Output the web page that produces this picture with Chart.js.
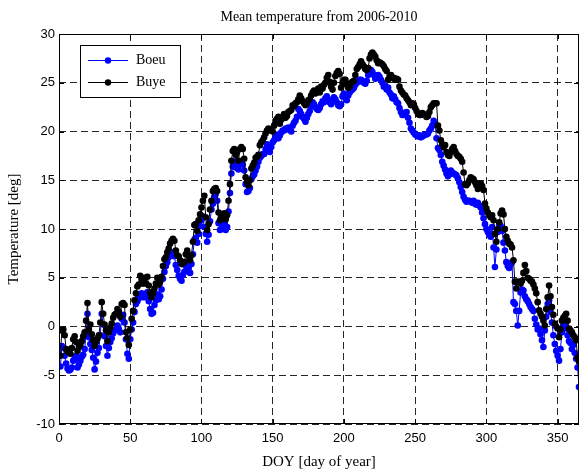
<!DOCTYPE html>
<html><head><meta charset="utf-8">
<script src="https://cdn.jsdelivr.net/npm/chart.js@4/dist/chart.umd.min.js"></script>
<style>html,body{margin:0;padding:0;background:#fff;}#wrap{width:583px;height:471px;position:relative;}</style>
</head><body><div id="wrap"><canvas id="c" width="583" height="471"></canvas></div>
<script>
const chartTitle = 'Mean temperature from 2006-2010';
const xTitle = 'DOY [day of year]';
const yTitle = 'Temperature [deg]';
const seriesNames = ['Boeu', 'Buye'];
const xTicks = [0, 50, 100, 150, 200, 250, 300, 350];
const yTicks = [-10, -5, 0, 5, 10, 15, 20, 25, 30];
const days = Array.from({length: 365}, (_, i) => i + 1);

const boeu = [
-4.1,-2.0,-2.2,-3.0,-3.8,-4.3,-4.5,-4.4,-4.2,-3.5,
-3.3,-3.0,-4.2,-3.9,-3.5,-3.1,-2.9,-2.3,-0.8,1.3,
-1.1,-1.8,-2.4,-3.2,-4.4,-3.6,-2.7,-2.2,-0.9,1.3,
0.2,-1.0,-2.0,-3.0,-2.2,-1.6,-1.2,-0.7,-0.4,-0.3,
0.1,-0.3,-0.6,0.8,1.2,0.4,-1.3,-2.8,-3.3,-1.3,
-0.3,0.4,1.5,2.3,2.6,2.9,3.2,3.4,3.0,3.3,
3.0,3.5,2.6,1.8,1.3,1.4,2.2,2.7,3.3,2.8,
3.1,3.8,4.9,5.6,6.2,6.6,7.1,7.3,7.4,7.6,
7.2,6.3,5.8,5.2,4.9,4.7,5.3,5.6,6.2,6.6,
6.0,5.5,6.4,7.4,8.9,9.1,8.6,9.5,10.3,10.9,
11.3,10.2,9.5,8.7,9.4,10.8,12.0,12.6,13.3,13.6,
12.9,10.6,9.9,10.0,10.3,10.5,9.9,10.2,11.8,13.7,
15.7,16.4,16.9,16.3,17.0,16.1,16.7,17.0,16.6,16.0,
14.6,13.8,13.9,14.2,15.1,15.4,15.6,16.0,16.4,16.9,
17.3,17.5,17.7,17.7,18.2,18.7,18.5,17.9,18.4,18.9,
19.1,19.4,19.7,19.3,19.6,19.9,20.1,20.1,20.3,20.2,
20.4,20.2,20.0,20.6,20.9,21.1,21.5,22.3,22.1,21.8,
21.5,21.3,21.0,21.4,21.8,22.1,22.6,23.0,22.8,22.5,
22.3,22.2,22.4,22.8,23.1,23.0,23.4,23.6,23.3,23.0,
22.8,23.2,23.5,23.3,23.0,22.7,22.6,22.8,23.6,23.9,
23.5,23.2,23.7,24.0,24.2,24.3,24.5,24.8,25.0,25.1,
25.3,25.3,25.1,25.0,24.9,25.2,25.8,26.0,26.3,26.1,
25.8,25.4,25.6,25.8,25.6,25.3,25.0,24.6,24.7,24.3,
24.5,24.0,23.8,23.4,23.6,23.3,23.0,22.9,22.4,22.0,
21.7,21.7,21.9,22.0,21.4,20.9,20.3,20.1,19.9,19.7,
19.6,19.5,19.6,19.4,19.5,19.6,19.7,19.7,19.8,20.1,
20.3,20.6,21.1,20.8,19.3,18.3,18.1,17.6,16.9,16.5,
16.1,15.7,15.4,15.6,16.0,15.8,15.7,15.6,15.5,15.2,
14.8,14.3,13.8,13.3,13.0,12.8,12.9,12.9,12.8,12.7,
12.9,12.6,12.5,12.7,12.4,12.2,11.7,11.1,10.5,10.0,
9.7,9.4,9.2,10.2,8.1,6.1,7.9,9.7,10.5,10.3,
9.8,8.6,7.8,6.6,6.2,6.0,6.4,6.6,2.5,2.3,
1.6,0.1,1.6,3.5,3.8,3.7,3.1,2.8,2.6,2.3,
2.0,1.8,1.6,0.8,0.2,-0.3,-0.2,-0.8,-1.4,-2.1,
-0.4,1.0,2.3,2.7,1.5,0.4,-0.9,-1.8,-2.5,-3.0,
-3.5,-2.3,-0.6,0.1,0.2,-0.2,-0.9,-1.5,-1.7,-2.3,
-1.9,-2.7,-3.3,-4.2,-6.2];

const buye = [
-3.0,-0.4,-0.3,-0.9,-2.3,-2.6,-2.4,-2.8,-2.2,-1.3,
-1.0,-1.6,-2.5,-2.1,-1.9,-1.5,-1.0,-0.6,0.6,2.4,
-0.3,0.2,-0.8,-1.4,-2.0,-1.6,-1.2,-0.9,0.4,2.5,
1.3,0.2,-0.4,-1.5,-0.6,-0.1,0.3,0.9,1.2,1.3,
1.8,1.5,1.0,2.3,2.4,2.2,-0.6,-1.2,-1.9,-0.3,
0.8,1.6,2.7,3.4,4.1,4.3,5.2,4.8,4.4,5.0,
4.4,5.1,4.2,3.5,3.0,3.4,3.9,4.4,5.0,4.3,
4.6,5.1,6.2,6.9,7.1,7.6,8.0,8.5,8.8,9.0,
8.8,7.8,7.3,7.2,6.8,6.4,6.6,6.6,7.4,7.8,
7.2,6.8,7.3,8.7,10.4,10.5,9.8,10.9,11.5,12.2,
12.9,13.4,11.2,9.9,10.5,12.0,12.9,13.9,14.1,14.2,
13.9,11.7,10.9,11.2,11.5,11.6,11.0,11.4,12.9,14.6,
17.0,18.0,18.2,17.6,17.9,17.0,18.2,18.4,18.2,17.2,
15.3,14.8,14.5,15.0,16.2,16.5,16.8,17.3,17.4,17.6,
18.6,18.9,19.1,19.4,19.8,20.1,20.3,20.1,20.2,20.0,
20.6,21.1,21.3,21.5,20.8,21.2,21.5,21.8,21.4,21.6,
22.0,22.1,22.2,22.7,22.6,22.9,23.0,23.3,23.7,23.4,
23.1,22.9,22.7,22.9,23.2,23.3,23.7,24.0,24.2,23.9,
24.1,24.4,24.0,24.6,24.4,24.8,25.0,25.5,25.8,25.1,
24.6,24.3,25.0,25.7,26.0,26.2,25.9,24.5,25.0,25.3,
25.3,24.8,24.5,24.6,25.0,25.1,25.2,25.8,26.4,26.6,
26.9,27.2,26.9,26.7,26.4,26.3,26.5,27.5,27.9,28.1,
27.9,27.7,27.3,27.0,27.1,27.0,26.9,26.7,26.4,26.2,
25.3,25.6,25.8,25.5,25.5,25.3,25.4,25.3,24.6,24.2,
24.0,23.8,23.7,23.4,23.2,23.0,22.7,22.9,22.8,22.4,
22.1,21.8,21.7,21.7,21.9,21.8,21.7,21.5,21.6,22.0,
22.5,22.7,22.9,22.9,22.9,20.6,20.1,19.1,18.7,18.4,
18.6,17.9,17.6,17.5,17.9,18.2,18.4,18.0,17.7,17.5,
17.4,17.2,16.9,15.8,14.6,14.5,14.7,15.0,15.3,15.2,
15.1,14.8,14.5,14.1,14.6,14.7,14.4,14.0,12.6,12.1,
11.7,11.4,11.2,11.4,10.9,9.5,8.7,10.0,10.7,11.6,
11.9,11.5,10.0,9.2,8.8,8.5,8.4,8.1,6.8,4.6,
3.9,4.6,4.5,4.4,4.7,5.5,6.3,5.7,5.0,4.9,
4.7,4.6,4.3,3.9,3.4,2.5,1.65,1.3,1.0,0.6,
0.1,1.8,3.0,4.2,3.1,2.0,1.2,0.3,0.0,-0.2,
-1.1,-0.3,0.6,0.9,1.1,1.3,0.6,-0.2,-0.4,-0.6,
-0.9,-1.1,-1.4,-3.2,-3.6];

const seriesColors = ['#0000ff', '#000000'];

const decor = {
  id: 'decor',
  afterDraw(chart) {
    const ctx = chart.ctx;
    const a = chart.chartArea;
    const xs = chart.scales.x, ys = chart.scales.y;
    ctx.save();
    ctx.strokeStyle = '#000';
    ctx.lineWidth = 1;
    ctx.setLineDash([]);
    ctx.strokeRect(Math.round(a.left) + 0.5, Math.round(a.top) + 0.5, Math.round(a.right - a.left) - 1, Math.round(a.bottom - a.top) - 1);
    ctx.beginPath();
    const tl = 5;
    xTicks.forEach(v => {
      const px = Math.round(xs.getPixelForValue(v)) + 0.5;
      ctx.moveTo(px, a.bottom); ctx.lineTo(px, a.bottom - tl);
      ctx.moveTo(px, a.top); ctx.lineTo(px, a.top + tl);
    });
    yTicks.forEach(v => {
      const py = Math.round(ys.getPixelForValue(v)) + 0.5;
      ctx.moveTo(a.left, py); ctx.lineTo(a.left + tl, py);
      ctx.moveTo(a.right, py); ctx.lineTo(a.right - tl, py);
    });
    ctx.stroke();
    ctx.fillStyle = '#000';
    ctx.font = '14px "Liberation Serif"';
    ctx.textAlign = 'center';
    ctx.textBaseline = 'middle';
    ctx.fillText(chartTitle, (a.left + a.right) / 2, 17);
    ctx.font = '15px "Liberation Serif"';
    ctx.fillText(xTitle, (a.left + a.right) / 2, 462);
    ctx.save();
    ctx.translate(14, (a.top + a.bottom) / 2);
    ctx.rotate(-Math.PI / 2);
    ctx.fillText(yTitle, 0, 0);
    ctx.restore();
    const lx = 80, ly = 45, lw = 100, lh = 52;
    ctx.fillStyle = '#fff';
    ctx.fillRect(lx, ly, lw, lh);
    ctx.strokeStyle = '#000';
    ctx.strokeRect(lx + 0.5, ly + 0.5, lw, lh);
    seriesNames.forEach((name, i) => {
      const y = ly + 15 + i * 22;
      ctx.strokeStyle = seriesColors[i];
      ctx.lineWidth = 1;
      ctx.beginPath();
      ctx.moveTo(lx + 8, y + 0.5); ctx.lineTo(lx + 48, y + 0.5);
      ctx.stroke();
      ctx.fillStyle = seriesColors[i];
      ctx.beginPath();
      ctx.arc(lx + 28, y + 0.5, 3.2, 0, Math.PI * 2);
      ctx.fill();
      ctx.fillStyle = '#000';
      ctx.font = '14px "Liberation Serif"';
      ctx.textAlign = 'left';
      ctx.textBaseline = 'middle';
      ctx.fillText(name, lx + 56, y);
    });
    ctx.restore();
  }
};

new Chart(document.getElementById('c').getContext('2d'), {
  type: 'line',
  data: {
    datasets: [
      { label: seriesNames[1], data: buye.map((v, i) => ({x: days[i], y: v})), borderColor: seriesColors[1], backgroundColor: seriesColors[1], borderWidth: 1, pointRadius: 3.3, pointBorderWidth: 0, tension: 0, order: 0 },
      { label: seriesNames[0], data: boeu.map((v, i) => ({x: days[i], y: v})), borderColor: seriesColors[0], backgroundColor: seriesColors[0], borderWidth: 1, pointRadius: 3.3, pointBorderWidth: 0, tension: 0, order: 1 }
    ]
  },
  options: {
    responsive: false,
    animation: false,
    devicePixelRatio: 1,
    layout: { padding: { top: 34, right: 1, left: 0, bottom: 0 } },
    plugins: { legend: { display: false }, tooltip: { enabled: false }, title: { display: false } },
    scales: {
      x: {
        type: 'linear', min: 0, max: 365,
        afterBuildTicks: s => { s.ticks = xTicks.map(v => ({ value: v })); },
        afterFit: s => { s.height = 47; },
        grid: { color: 'rgba(0,0,0,0.85)', lineWidth: 1, drawTicks: false },
        border: { display: false, dash: [7, 4] },
        ticks: { color: '#000', font: { family: 'Liberation Sans', size: 13 }, padding: 7, maxRotation: 0, autoSkip: false }
      },
      y: {
        type: 'linear', min: -10, max: 30,
        afterBuildTicks: s => { s.ticks = yTicks.map(v => ({ value: v })); },
        afterFit: s => { s.width = 59; },
        grid: { color: 'rgba(0,0,0,0.85)', lineWidth: 1, drawTicks: false },
        border: { display: false, dash: [7, 4] },
        ticks: { color: '#000', font: { family: 'Liberation Sans', size: 13 }, padding: 4, autoSkip: false }
      }
    }
  },
  plugins: [decor]
});
</script>
</body></html>
